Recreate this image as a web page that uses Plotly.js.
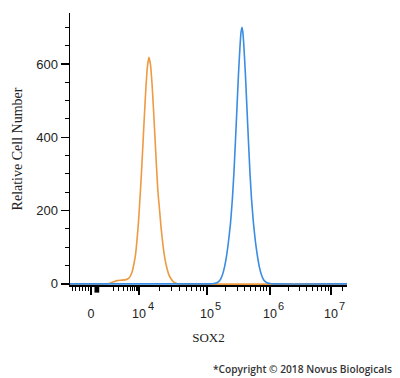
<!DOCTYPE html>
<html><head><meta charset="utf-8">
<script src="https://cdn.plot.ly/plotly-3.0.1.min.js"></script>
<style>html,body{margin:0;padding:0;background:#fff}#chart{width:400px;height:378px}</style>
</head><body><div id="chart"></div>
<script>
// x values are in display units of the biexponential axis (10^4 -> 4, 10^5 -> 5 ...)
const isotypeX = [2.985, 3.515, 3.574, 3.632, 3.676, 3.735, 3.794, 3.838, 3.868, 3.897, 3.926, 3.949, 3.971, 3.993, 4.015, 4.037, 4.059, 4.081, 4.103, 4.125, 4.147, 4.169, 4.191, 4.213, 4.235, 4.257, 4.279, 4.301, 4.324, 4.353, 4.382, 4.412, 4.441, 4.471, 4.5, 4.544, 4.603, 7.06];
const isotypeY = [0, 0, 2, 6, 9, 10, 11, 14, 20, 32, 55, 80, 120, 170, 235, 305, 385, 465, 540, 595, 618, 598, 548, 478, 400, 322, 250, 205, 155, 105, 68, 42, 24, 14, 7, 2, 0, 0];
const sox2X = [2.985, 5.044, 5.103, 5.147, 5.191, 5.228, 5.257, 5.287, 5.316, 5.346, 5.375, 5.397, 5.419, 5.441, 5.463, 5.485, 5.5, 5.515, 5.529, 5.544, 5.566, 5.588, 5.610, 5.632, 5.654, 5.684, 5.713, 5.743, 5.772, 5.801, 5.838, 5.882, 5.926, 5.985, 7.06];
const sox2Y = [0, 0, 1, 3, 10, 25, 45, 75, 115, 165, 235, 305, 390, 480, 570, 645, 685, 700, 685, 645, 570, 480, 390, 305, 235, 165, 115, 75, 45, 25, 10, 3, 1, 0, 0];

const xTickVals = [3.294, 4, 5, 5.926, 6.824];
const xTickText = ['0', '10', '10', '10', '10'];
const xTickExponents = ['', '4', '5', '6', '7'];
const xMinorVals = [3.015, 3.059, 3.118, 3.162, 3.206, 3.25, 3.62, 3.70, 3.77, 3.83, 3.87, 3.91, 3.94, 3.965, 3.985,
  4.301, 4.477, 4.602, 4.699, 4.778, 4.845, 4.903, 4.954,
  5.279, 5.442, 5.557, 5.647, 5.72, 5.782, 5.836, 5.883,
  6.196, 6.354, 6.467, 6.554, 6.625, 6.685, 6.737, 6.783, 7.0];
const yTickVals = [0, 200, 400, 600];
const zeroMarkerX = 3.38;

const traces = [
  {x: isotypeX, y: isotypeY, type: 'scatter', mode: 'lines', line: {color: '#EE9A42', width: 1.6, shape: 'spline', smoothing: 0.4}, hoverinfo: 'skip'},
  {x: sox2X, y: sox2Y, type: 'scatter', mode: 'lines', line: {color: '#3A8DE2', width: 1.6, shape: 'spline', smoothing: 0.4}, hoverinfo: 'skip'}
];

const expAnnotations = xTickVals.map((v, i) => ({
  xref: 'x', yref: 'paper', x: v, y: 0, xanchor: 'center', yanchor: 'middle',
  xshift: 11.5, yshift: -21, showarrow: false, text: xTickExponents[i],
  font: {family: 'Liberation Sans, Arial, sans-serif', size: 11, color: '#222'}
})).filter(a => a.text);

const layout = {
  width: 400, height: 378,
  margin: {l: 70, r: 53, t: 13, b: 93},
  paper_bgcolor: '#ffffff', plot_bgcolor: '#ffffff',
  showlegend: false,
  xaxis: {
    range: [2.985, 7.06], showgrid: false, zeroline: false,
    showline: true, linecolor: '#000', linewidth: 1.5,
    tickmode: 'array', tickvals: xTickVals, ticktext: xTickText,
    ticks: 'outside', ticklen: 8, tickwidth: 1.2, tickcolor: '#000',
    ticklabelstandoff: 8,
    tickfont: {family: 'Liberation Sans, Arial, sans-serif', size: 12.5, color: '#222'},
    minor: {tickmode: 'array', tickvals: xMinorVals, ticks: 'outside', ticklen: 4, tickwidth: 1, tickcolor: '#000'},
    title: {text: 'SOX2', font: {family: 'Liberation Serif, Times New Roman, serif', size: 13, color: '#222'}, standoff: 13}
  },
  yaxis: {
    range: [-3, 739], showgrid: false, zeroline: false,
    showline: true, linecolor: '#000', linewidth: 1.5,
    tickmode: 'array', tickvals: yTickVals,
    ticks: 'outside', ticklen: 8, tickwidth: 1.2, tickcolor: '#000',
    tickfont: {family: 'Liberation Sans, Arial, sans-serif', size: 13, color: '#222'},
    minor: {dtick: 50, ticks: 'outside', ticklen: 4, tickwidth: 1, tickcolor: '#000'},
    title: {text: 'Relative Cell Number', font: {family: 'Liberation Serif, Times New Roman, serif', size: 14, color: '#222'}, standoff: 10}
  },
  shapes: [
    {type: 'rect', xref: 'x', yref: 'paper', x0: zeroMarkerX - 0.035, x1: zeroMarkerX + 0.035, y0: -0.028, y1: 0, fillcolor: '#000', line: {width: 0}}
  ],
  annotations: expAnnotations.concat([
    {xref: 'paper', yref: 'paper', x: 1.17, y: -0.31, xanchor: 'right', yanchor: 'middle', showarrow: false,
     text: '*Copyright \u00a9 2018 Novus Biologicals', font: {family: 'Open Sans, sans-serif', size: 10.2, color: '#333', weight: 600}}
  ])
};

Plotly.newPlot('chart', traces, layout, {displayModeBar: false, staticPlot: true});
</script>
</body></html>
